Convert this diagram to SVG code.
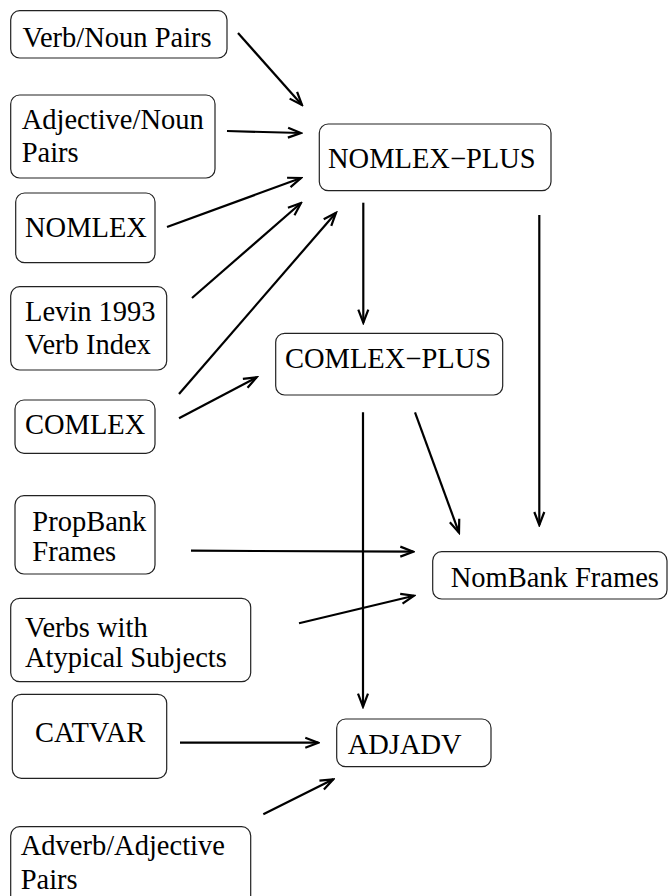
<svg xmlns="http://www.w3.org/2000/svg" width="668" height="896" viewBox="0 0 668 896" font-family="'Liberation Serif', 'DejaVu Serif', serif">
<style>
.box{fill:#fff;stroke:#222;stroke-width:1.2}
text{font-family:'Liberation Serif','DejaVu Serif',serif;font-size:28.5px;fill:#000}
.c line{stroke:#000;stroke-width:2.2;fill:none}
.a{marker-end:url(#ah)}
</style>
<defs>
<marker id="ah" markerUnits="userSpaceOnUse" viewBox="-15 -7 17 14" refX="0" refY="0" markerWidth="17" markerHeight="14" orient="auto">
<path d="M-13,-5 L0,0 L-13,5" fill="none" stroke="#000" stroke-width="2.2"/>
</marker>
</defs>
<rect width="668" height="896" fill="#fff"/>
<g id="verbnoun"><rect class="box" x="10.7" y="10.7" width="216.3" height="47.3" rx="9"/><text x="22.5" y="47">Verb/Noun Pairs</text></g>
<g id="adjnoun"><rect class="box" x="10.7" y="95" width="204.3" height="83" rx="9"/><text x="21.7" y="129">Adjective/Noun</text><text x="21.7" y="162">Pairs</text></g>
<g id="nomlex"><rect class="box" x="15.7" y="193" width="139.3" height="69.7" rx="9"/><text x="25" y="237">NOMLEX</text></g>
<g id="levin"><rect class="box" x="10.7" y="286.7" width="156" height="83.3" rx="9"/><text x="25" y="321">Levin 1993</text><text x="25" y="354.3">Verb Index</text></g>
<g id="comlex"><rect class="box" x="15" y="400" width="140" height="53.3" rx="9"/><text x="25" y="434.3">COMLEX</text></g>
<g id="propbank"><rect class="box" x="15" y="495.7" width="140" height="78.3" rx="9"/><text x="32.3" y="530.7">PropBank</text><text x="32.3" y="561">Frames</text></g>
<g id="verbswith"><rect class="box" x="10.7" y="598.3" width="240" height="83.4" rx="9"/><text x="25" y="636.7">Verbs with</text><text x="25" y="666.7">Atypical Subjects</text></g>
<g id="catvar"><rect class="box" x="12.3" y="694.3" width="154.4" height="84" rx="9"/><text x="35" y="741.7">CATVAR</text></g>
<g id="advadj"><rect class="box" x="10.7" y="826.7" width="240" height="80" rx="9"/><text x="20.7" y="855">Adverb/Adjective</text><text x="20.7" y="889.3">Pairs</text></g>
<g id="nomlexplus"><rect class="box" x="319.3" y="124" width="231.7" height="66.7" rx="9"/><text x="328" y="167.7">NOMLEX−PLUS</text></g>
<g id="comlexplus"><rect class="box" x="275.7" y="333.3" width="227" height="61.7" rx="9"/><text x="285" y="367.7">COMLEX−PLUS</text></g>
<g id="nombank"><rect class="box" x="432.7" y="551.7" width="234.3" height="47.3" rx="9"/><text x="450.7" y="586.7">NomBank Frames</text></g>
<g id="adjadv"><rect class="box" x="336.7" y="719" width="154.3" height="47.7" rx="9"/><text x="347.7" y="754.3">ADJADV</text></g>
<g id="connectors" class="c">
<line class="a" x1="238" y1="33" x2="302" y2="105"/>
<line class="a" x1="227" y1="131" x2="301" y2="133"/>
<line class="a" x1="167" y1="227" x2="301" y2="178"/>
<line class="a" x1="192" y1="298" x2="301" y2="203"/>
<line class="a" x1="179" y1="394" x2="336" y2="212.7"/>
<line class="a" x1="179" y1="418.3" x2="256.7" y2="377.3"/>
<line class="a" x1="363.3" y1="202.7" x2="363.3" y2="322.7"/>
<line class="a" x1="539.3" y1="215" x2="539.3" y2="525"/>
<line class="a" x1="415" y1="412.3" x2="459" y2="532.7"/>
<line class="a" x1="363" y1="412.3" x2="363" y2="706.7"/>
<line class="a" x1="191" y1="550.7" x2="413.3" y2="551.7"/>
<line class="a" x1="299" y1="623.3" x2="414" y2="595.7"/>
<line class="a" x1="180" y1="742.7" x2="318.3" y2="742.7"/>
<line class="a" x1="263.3" y1="814.3" x2="333.3" y2="779.3"/>
</g>
</svg>
